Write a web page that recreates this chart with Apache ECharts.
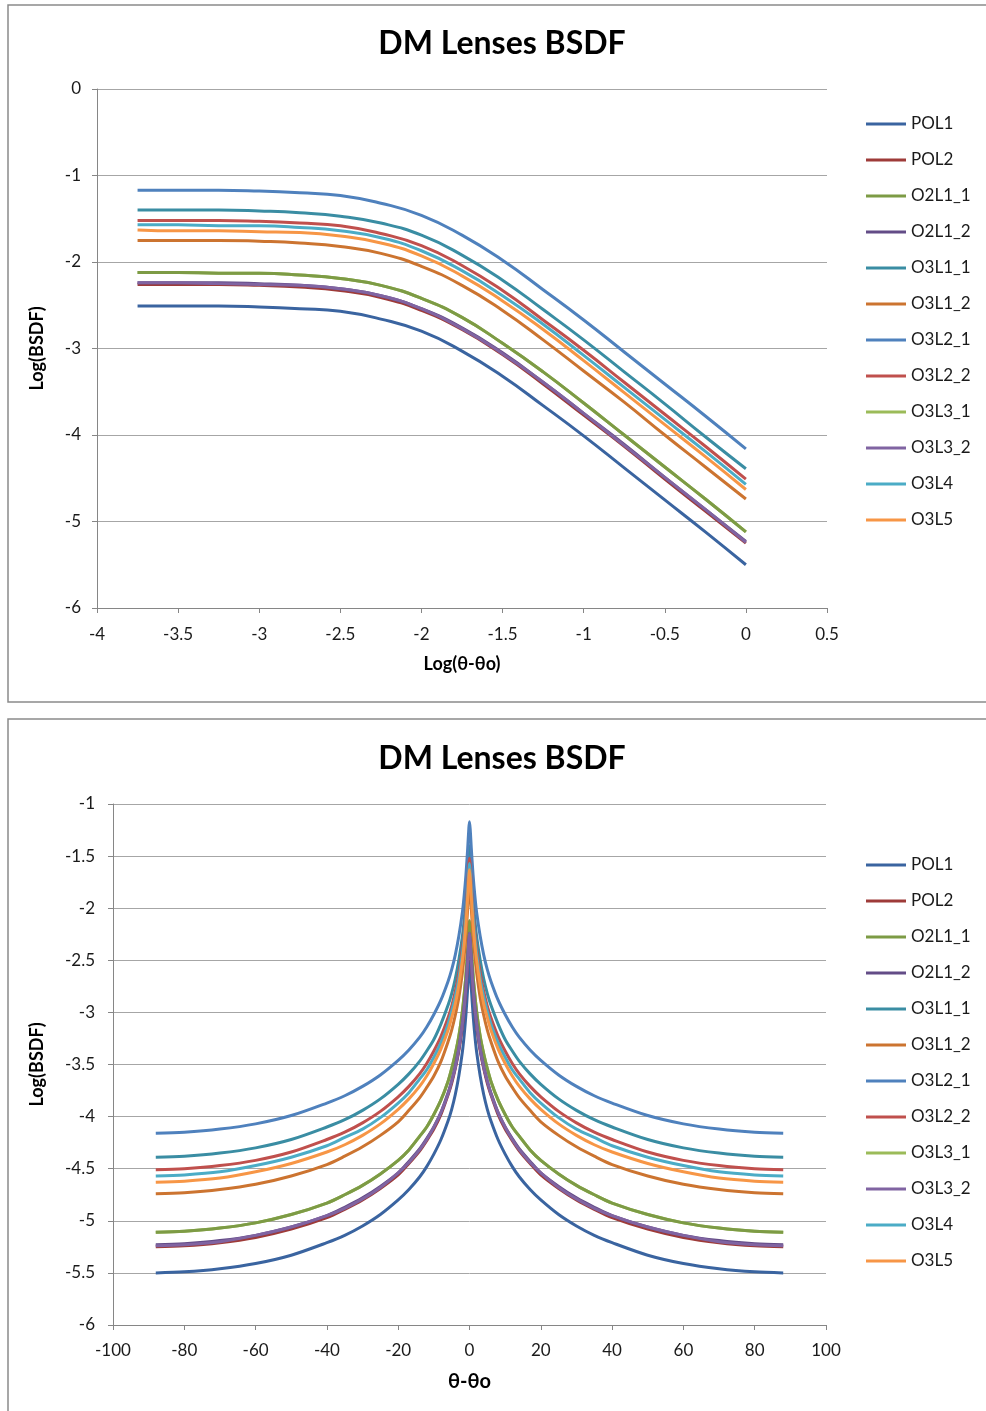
<!DOCTYPE html>
<html>
<head>
<meta charset="utf-8">
<script src="https://cdn.jsdelivr.net/npm/echarts@6/dist/echarts.min.js"></script>
<style>
html,body{margin:0;padding:0;background:#fff;}
#c{width:986px;height:1411px;}
</style>
</head>
<body>
<div id="c"></div>
<script>
// ---------- data ----------
const seriesNames = ['POL1','POL2','O2L1_1','O2L1_2','O3L1_1','O3L1_2','O3L2_1','O3L2_2','O3L3_1','O3L3_2','O3L4','O3L5'];
const seriesColors = ['#3A64A0','#9E3B39','#7D9B45','#634C87','#3A8DA3','#CC7430','#4F81BD','#C0504D','#9BBB59','#8064A2','#4BACC6','#F79646'];

// top chart: x = Log(θ-θo)
const logX = [-3.75,-3.5,-3.25,-3,-2.75,-2.5,-2.25,-2,-1.75,-1.5,-1.25,-1,-0.75,-0.5,-0.25,0];
const top_POL1   = [-2.51,-2.51,-2.51,-2.52,-2.54,-2.57,-2.66,-2.80,-3.03,-3.32,-3.66,-4.01,-4.38,-4.75,-5.12,-5.50];
const top_POL2   = [-2.26,-2.26,-2.26,-2.27,-2.29,-2.33,-2.41,-2.56,-2.78,-3.07,-3.41,-3.77,-4.13,-4.51,-4.88,-5.25];
const top_O2L1_1 = [-2.12,-2.12,-2.13,-2.13,-2.15,-2.19,-2.27,-2.42,-2.64,-2.94,-3.27,-3.63,-4.00,-4.37,-4.74,-5.12];
const top_O2L1_2 = [-2.24,-2.24,-2.24,-2.25,-2.27,-2.31,-2.39,-2.54,-2.76,-3.05,-3.39,-3.75,-4.11,-4.49,-4.86,-5.23];
const top_O3L1_1 = [-1.40,-1.40,-1.40,-1.41,-1.43,-1.47,-1.55,-1.69,-1.92,-2.21,-2.55,-2.90,-3.27,-3.64,-4.02,-4.39];
const top_O3L1_2 = [-1.75,-1.75,-1.75,-1.76,-1.78,-1.82,-1.90,-2.05,-2.27,-2.56,-2.90,-3.26,-3.62,-4.00,-4.37,-4.74];
const top_O3L2_1 = [-1.17,-1.17,-1.17,-1.18,-1.20,-1.23,-1.32,-1.46,-1.69,-1.98,-2.32,-2.67,-3.04,-3.41,-3.78,-4.16];
const top_O3L2_2 = [-1.52,-1.52,-1.52,-1.53,-1.55,-1.58,-1.67,-1.81,-2.04,-2.33,-2.67,-3.02,-3.39,-3.76,-4.13,-4.51];
const top_O3L3_1 = [-2.12,-2.12,-2.13,-2.13,-2.15,-2.19,-2.27,-2.42,-2.64,-2.94,-3.27,-3.63,-4.00,-4.37,-4.74,-5.12];
const top_O3L3_2 = [-2.24,-2.24,-2.25,-2.26,-2.27,-2.31,-2.39,-2.54,-2.77,-3.06,-3.39,-3.75,-4.12,-4.49,-4.86,-5.24];
const top_O3L4   = [-1.57,-1.57,-1.58,-1.58,-1.60,-1.64,-1.72,-1.87,-2.10,-2.39,-2.72,-3.08,-3.45,-3.82,-4.19,-4.57];
const top_O3L5   = [-1.63,-1.64,-1.64,-1.65,-1.66,-1.70,-1.78,-1.93,-2.16,-2.45,-2.78,-3.14,-3.51,-3.88,-4.25,-4.63];

// bottom chart: x = θ-θo (one side; the curves are symmetric about 0)
const theta = [0.01,0.2,0.5,1,1.5,2,3,4,5,6,8,10,12,14,17,20,25,30,35,40,50,60,70,80,88];
const bot_POL1   = [-2.51,-2.58,-2.76,-3.02,-3.22,-3.38,-3.61,-3.79,-3.93,-4.04,-4.22,-4.36,-4.48,-4.58,-4.70,-4.80,-4.94,-5.05,-5.14,-5.21,-5.33,-5.41,-5.46,-5.49,-5.50];
const bot_POL2   = [-2.26,-2.34,-2.51,-2.77,-2.97,-3.13,-3.37,-3.54,-3.68,-3.79,-3.98,-4.12,-4.23,-4.33,-4.45,-4.56,-4.69,-4.80,-4.89,-4.97,-5.08,-5.16,-5.21,-5.24,-5.25];
const bot_O2L1_1 = [-2.12,-2.20,-2.38,-2.64,-2.83,-2.99,-3.23,-3.40,-3.54,-3.66,-3.84,-3.98,-4.10,-4.19,-4.32,-4.42,-4.55,-4.66,-4.75,-4.83,-4.94,-5.02,-5.07,-5.10,-5.11];
const bot_O2L1_2 = [-2.24,-2.32,-2.49,-2.75,-2.95,-3.11,-3.35,-3.52,-3.66,-3.77,-3.96,-4.10,-4.21,-4.31,-4.43,-4.54,-4.67,-4.78,-4.87,-4.95,-5.06,-5.14,-5.19,-5.22,-5.23];
const bot_O3L1_1 = [-1.40,-1.48,-1.65,-1.91,-2.11,-2.27,-2.50,-2.68,-2.82,-2.93,-3.11,-3.26,-3.37,-3.47,-3.59,-3.69,-3.83,-3.94,-4.03,-4.10,-4.22,-4.30,-4.35,-4.38,-4.39];
const bot_O3L1_2 = [-1.75,-1.83,-2.00,-2.26,-2.46,-2.62,-2.86,-3.03,-3.17,-3.28,-3.47,-3.61,-3.72,-3.82,-3.94,-4.05,-4.18,-4.29,-4.38,-4.46,-4.57,-4.65,-4.70,-4.73,-4.74];
const bot_O3L2_1 = [-1.17,-1.24,-1.42,-1.68,-1.88,-2.04,-2.27,-2.45,-2.59,-2.70,-2.88,-3.02,-3.14,-3.24,-3.36,-3.46,-3.60,-3.71,-3.80,-3.87,-3.99,-4.07,-4.12,-4.15,-4.16];
const bot_O3L2_2 = [-1.52,-1.59,-1.77,-2.03,-2.23,-2.39,-2.62,-2.80,-2.94,-3.05,-3.23,-3.37,-3.49,-3.59,-3.71,-3.81,-3.95,-4.06,-4.15,-4.22,-4.34,-4.42,-4.47,-4.50,-4.51];
const bot_O3L3_1 = [-2.12,-2.20,-2.38,-2.64,-2.83,-2.99,-3.23,-3.40,-3.54,-3.66,-3.84,-3.98,-4.10,-4.19,-4.32,-4.42,-4.55,-4.66,-4.75,-4.83,-4.94,-5.02,-5.07,-5.10,-5.11];
const bot_O3L3_2 = [-2.24,-2.32,-2.50,-2.76,-2.96,-3.11,-3.35,-3.53,-3.66,-3.78,-3.96,-4.10,-4.22,-4.32,-4.44,-4.54,-4.68,-4.79,-4.88,-4.95,-5.06,-5.14,-5.20,-5.23,-5.24];
const bot_O3L4   = [-1.57,-1.65,-1.83,-2.09,-2.29,-2.44,-2.68,-2.85,-2.99,-3.11,-3.29,-3.43,-3.55,-3.64,-3.77,-3.87,-4.01,-4.12,-4.20,-4.28,-4.39,-4.47,-4.53,-4.56,-4.57];
const bot_O3L5   = [-1.63,-1.71,-1.89,-2.15,-2.35,-2.50,-2.74,-2.92,-3.05,-3.17,-3.35,-3.49,-3.61,-3.71,-3.83,-3.93,-4.07,-4.18,-4.27,-4.34,-4.45,-4.53,-4.59,-4.62,-4.63];

const topYTicks = {min:-6, max:0, interval:1};
const topXTicks = {min:-4, max:0.5, interval:0.5};
const botYTicks = {min:-6, max:-1, interval:0.5};
const botXTicks = {min:-100, max:100, interval:20};

const topData = [top_POL1,top_POL2,top_O2L1_1,top_O2L1_2,top_O3L1_1,top_O3L1_2,top_O3L2_1,top_O3L2_2,top_O3L3_1,top_O3L3_2,top_O3L4,top_O3L5];
const botData = [bot_POL1,bot_POL2,bot_O2L1_1,bot_O2L1_2,bot_O3L1_1,bot_O3L1_2,bot_O3L2_1,bot_O3L2_2,bot_O3L3_1,bot_O3L3_2,bot_O3L4,bot_O3L5];
// O3L3_1 lies underneath O2L1_1 in the picture
const hiddenBelow = {'O3L3_1':true};

// ---------- chart ----------
const FONT = 'Lato, "Open Sans", sans-serif';
const gridGray = '#A6A6A6';
const axisGray = '#868686';
const labelStyle = (m)=>({color:'#1a1a1a', fontFamily:FONT, fontSize:17, margin:m});
const nameStyle = {color:'#000', fontFamily:FONT, fontWeight:'bold', fontSize:18};

function mkAxis(t, extra){
  return Object.assign({
    type:'value', min:t.min, max:t.max, interval:t.interval,
    axisLine:{show:true, onZero:false, lineStyle:{color:axisGray, width:1}},
    axisTick:{show:true, length:5, lineStyle:{color:axisGray}},
    splitLine:{show:false},
    axisLabel:labelStyle(16),
    nameTextStyle:nameStyle,
  }, extra||{});
}

const series = [];
seriesNames.forEach((n,i)=>{
  series.push({
    name:n, type:'line', xAxisIndex:0, yAxisIndex:0, symbol:'none',
    smooth:0.5, z: hiddenBelow[n] ? 1 : 2,
    lineStyle:{width:3, color:seriesColors[i]}, itemStyle:{color:seriesColors[i]},
    data: logX.map((x,k)=>[x, topData[i][k]]),
    animation:false
  });
});
seriesNames.forEach((n,i)=>{
  const vals = botData[i];
  const left = theta.map((t,k)=>[-t, vals[k]]).reverse();
  const right = theta.map((t,k)=>[t, vals[k]]);
  series.push({
    name:n, type:'line', xAxisIndex:1, yAxisIndex:1, symbol:'none',
    smooth:0.3, z: hiddenBelow[n] ? 1 : 2,
    lineStyle:{width:3, color:seriesColors[i]}, itemStyle:{color:seriesColors[i]},
    data: left.concat(right),
    animation:false
  });
});

const legendBase = {
  orient:'vertical', left:861, itemWidth:40, itemHeight:3, icon:'rect', itemGap:16,
  textStyle:{fontFamily:FONT, fontSize:17, color:'#1a1a1a', lineHeight:20},
  data:seriesNames, selectedMode:false
};

const option = {
  animation:false,
  backgroundColor:'#fff',
  graphic:[
    {type:'rect', shape:{x:8, y:5, width:1000, height:697}, style:{fill:'none', stroke:'#8a8a8a', lineWidth:1.5}, silent:true},
    {type:'rect', shape:{x:8, y:719, width:1000, height:700}, style:{fill:'none', stroke:'#8a8a8a', lineWidth:1.5}, silent:true},
    {type:'text', x:502, y:44, style:{text:'DM Lenses BSDF', font:'bold 32px '+FONT, fill:'#000', textAlign:'center', textVerticalAlign:'middle'}, silent:true},
    {type:'text', x:502, y:759, style:{text:'DM Lenses BSDF', font:'bold 32px '+FONT, fill:'#000', textAlign:'center', textVerticalAlign:'middle'}, silent:true}
  ],
  grid:[
    {left:97, top:89, width:730, height:519},
    {left:113, top:804, width:713, height:521}
  ],
  xAxis:[
    mkAxis(topXTicks, {gridIndex:0, name:'Log(θ-θo)', nameLocation:'middle', nameGap:47, axisLabel:labelStyle(18)}),
    mkAxis(botXTicks, {gridIndex:1, name:'θ-θo', nameLocation:'middle', nameGap:47, axisLabel:labelStyle(17), nameTextStyle:{color:'#000', fontFamily:FONT, fontWeight:'bold', fontSize:20}})
  ],
  yAxis:[
    mkAxis(topYTicks, {gridIndex:0, name:'Log(BSDF)', nameLocation:'middle', nameRotate:90, nameGap:51, splitLine:{show:true, lineStyle:{color:gridGray, width:1}}, axisLabel:labelStyle(16)}),
    mkAxis(botYTicks, {gridIndex:1, name:'Log(BSDF)', nameLocation:'middle', nameRotate:90, nameGap:67, splitLine:{show:true, lineStyle:{color:gridGray, width:1}}, axisLabel:labelStyle(18)})
  ],
  legend:[
    Object.assign({}, legendBase, {top:109}),
    Object.assign({}, legendBase, {top:850})
  ],
  series:series
};

const chart = echarts.init(document.getElementById('c'), null, {renderer:'canvas'});
chart.setOption(option);
</script>
</body>
</html>
